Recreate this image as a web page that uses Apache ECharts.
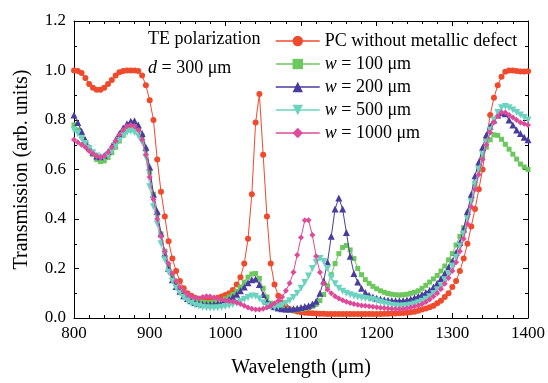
<!DOCTYPE html>
<html>
<head>
<meta charset="utf-8">
<script src="https://cdn.jsdelivr.net/npm/echarts@6/dist/echarts.min.js"></script>
<style>
html,body{margin:0;padding:0;background:#fff;}
#chart{width:548px;height:383px;}
</style>
</head>
<body>
<div id="chart"></div>
<script>
// Wavelength samples (µm), 800..1400
const wavelengths = [
  800,805,810,815,820,825,830,835,840,845,850,855,860,865,870,875,880,885,890,895,
  900,905,910,915,920,925,930,935,940,945,950,955,960,965,970,975,980,985,990,995,
  1000,1005,1010,1015,1020,1025,1030,1035,1040,1045,1050,1055,1060,1065,1070,1075,1080,1085,1090,1095,
  1100,1105,1110,1115,1120,1125,1130,1135,1140,1145,1150,1155,1160,1165,1170,1175,1180,1185,1190,1195,
  1200,1205,1210,1215,1220,1225,1230,1235,1240,1245,1250,1255,1260,1265,1270,1275,1280,1285,1290,1295,
  1300,1305,1310,1315,1320,1325,1330,1335,1340,1345,1350,1355,1360,1365,1370,1375,1380,1385,1390,1395,
  1400
];

const seriesNames = ['PC without metallic defect', 'w = 100 μm', 'w = 200 μm', 'w = 500 μm', 'w = 1000 μm'];

const pcNoDefect = [
  1.0,0.998,0.99,0.97,0.945,0.93,0.922,0.922,0.93,0.945,0.962,0.98,0.993,0.998,1.0,1.0,1.0,0.998,0.98,0.94,
  0.88,0.8,0.64,0.51,0.41,0.31,0.24,0.19,0.15,0.12,0.1,0.09,0.082,0.077,0.075,0.075,0.076,0.078,0.082,0.087,
  0.093,0.1,0.113,0.135,0.165,0.22,0.32,0.5,0.79,0.905,0.66,0.41,0.22,0.135,0.09,0.062,0.045,0.035,0.03,0.026,
  0.023,0.021,0.02,0.019,0.018,0.017,0.017,0.016,0.016,0.016,0.016,0.016,0.016,0.016,0.016,0.016,0.016,0.016,0.016,0.016,
  0.016,0.016,0.017,0.017,0.018,0.018,0.019,0.02,0.021,0.023,0.025,0.029,0.034,0.038,0.043,0.05,0.06,0.07,0.085,0.1,
  0.125,0.15,0.19,0.24,0.3,0.37,0.44,0.52,0.6,0.72,0.82,0.89,0.94,0.975,0.995,1.0,1.0,0.998,0.996,0.996,
  0.997
];

const w100 = [
  0.78,0.76,0.735,0.705,0.68,0.66,0.64,0.632,0.635,0.648,0.668,0.69,0.715,0.738,0.758,0.772,0.775,0.765,0.735,0.68,
  0.59,0.5,0.42,0.34,0.27,0.21,0.17,0.14,0.118,0.1,0.088,0.078,0.072,0.067,0.064,0.062,0.062,0.063,0.066,0.07,
  0.077,0.085,0.095,0.108,0.125,0.145,0.165,0.178,0.18,0.16,0.12,0.085,0.06,0.048,0.04,0.036,0.033,0.032,0.032,0.033,
  0.035,0.038,0.042,0.047,0.055,0.07,0.095,0.13,0.175,0.22,0.26,0.285,0.293,0.275,0.24,0.2,0.175,0.155,0.14,0.128,
  0.118,0.11,0.104,0.099,0.096,0.094,0.093,0.094,0.096,0.1,0.104,0.11,0.12,0.132,0.145,0.158,0.172,0.19,0.21,0.235,
  0.26,0.295,0.33,0.365,0.42,0.48,0.54,0.6,0.65,0.69,0.72,0.74,0.738,0.722,0.702,0.682,0.662,0.642,0.622,0.61,
  0.6
];

const w200 = [
  0.82,0.79,0.755,0.72,0.69,0.67,0.655,0.652,0.657,0.672,0.695,0.72,0.745,0.768,0.785,0.795,0.797,0.78,0.745,0.69,
  0.61,0.5,0.43,0.34,0.26,0.2,0.155,0.127,0.108,0.09,0.079,0.07,0.063,0.059,0.056,0.055,0.055,0.056,0.058,0.062,
  0.068,0.075,0.085,0.096,0.11,0.125,0.142,0.155,0.158,0.135,0.095,0.068,0.052,0.045,0.04,0.037,0.036,0.036,0.037,0.039,
  0.042,0.046,0.05,0.057,0.068,0.1,0.15,0.225,0.33,0.44,0.485,0.44,0.345,0.25,0.18,0.145,0.12,0.103,0.092,0.085,
  0.08,0.077,0.074,0.072,0.071,0.07,0.07,0.071,0.073,0.077,0.082,0.088,0.095,0.103,0.112,0.125,0.14,0.16,0.18,0.205,
  0.23,0.265,0.305,0.36,0.43,0.5,0.575,0.63,0.69,0.74,0.775,0.8,0.82,0.83,0.825,0.8,0.78,0.76,0.745,0.73,
  0.72
];

const w500 = [
  0.76,0.745,0.725,0.705,0.685,0.668,0.655,0.647,0.648,0.658,0.675,0.695,0.717,0.737,0.75,0.755,0.75,0.735,0.71,0.65,
  0.53,0.45,0.38,0.3,0.235,0.185,0.148,0.12,0.1,0.083,0.07,0.06,0.052,0.047,0.043,0.041,0.04,0.04,0.041,0.043,
  0.046,0.05,0.055,0.06,0.067,0.075,0.083,0.089,0.088,0.078,0.062,0.05,0.044,0.043,0.046,0.052,0.06,0.07,0.083,0.1,
  0.12,0.143,0.17,0.2,0.225,0.24,0.228,0.2,0.165,0.138,0.12,0.108,0.1,0.094,0.089,0.085,0.082,0.079,0.077,0.075,
  0.07,0.065,0.06,0.056,0.052,0.049,0.047,0.048,0.05,0.053,0.057,0.062,0.068,0.076,0.086,0.098,0.113,0.13,0.155,0.18,
  0.21,0.245,0.29,0.34,0.4,0.47,0.54,0.6,0.66,0.71,0.76,0.8,0.83,0.85,0.855,0.85,0.84,0.83,0.82,0.81,
  0.8
];

const w1000 = [
  0.72,0.71,0.7,0.69,0.675,0.665,0.655,0.65,0.655,0.67,0.69,0.715,0.74,0.76,0.775,0.78,0.775,0.76,0.72,0.66,
  0.57,0.48,0.4,0.33,0.27,0.22,0.18,0.15,0.125,0.108,0.095,0.087,0.082,0.08,0.085,0.088,0.087,0.083,0.078,0.074,
  0.071,0.069,0.067,0.063,0.057,0.049,0.042,0.037,0.034,0.034,0.037,0.042,0.05,0.06,0.07,0.085,0.11,0.14,0.185,0.255,
  0.325,0.395,0.395,0.335,0.25,0.185,0.14,0.115,0.1,0.088,0.079,0.072,0.066,0.061,0.057,0.054,0.051,0.049,0.047,0.045,
  0.043,0.041,0.04,0.038,0.037,0.036,0.036,0.037,0.039,0.042,0.046,0.051,0.057,0.065,0.075,0.087,0.1,0.117,0.138,0.162,
  0.19,0.225,0.27,0.32,0.38,0.45,0.52,0.58,0.64,0.7,0.75,0.79,0.815,0.83,0.83,0.82,0.81,0.8,0.79,0.785,
  0.78
];

const xTicks = [800, 900, 1000, 1100, 1200, 1300, 1400];
const yTicks = [0.0, 0.2, 0.4, 0.6, 0.8, 1.0, 1.2];

const seriesValues = [pcNoDefect, w100, w200, w500, w1000];
const colors = ['#ef4a2c', '#6cc85c', '#483d9e', '#6bd3bf', '#dd4b9a'];
const symbols = ['circle', 'rect', 'triangle', 'triangle', 'diamond'];
const symbolSizes = [6, 5, 7, 7, 6];
const symbolRotates = [0, 0, 0, 180, 0];

const FONT = '"Liberation Serif", "Times New Roman", serif';

const chart = echarts.init(document.getElementById('chart'), null, {renderer: 'canvas'});

const axisCommon = {
  type: 'value',
  axisLine: {show: true, onZero: false, lineStyle: {color: '#000', width: 1}},
  axisTick: {show: true, inside: true, length: 5, lineStyle: {color: '#000'}},
  minorTick: {show: true, length: 3, lineStyle: {color: '#000'}},
  splitLine: {show: false},
  minorSplitLine: {show: false}
};

const series = seriesValues.map((vals, i) => ({
  name: seriesNames[i],
  type: 'line',
  data: wavelengths.map((w, j) => [w, vals[j]]),
  symbol: symbols[i],
  symbolSize: symbolSizes[i],
  symbolRotate: symbolRotates[i],
  showSymbol: true,
  showAllSymbol: true,
  color: colors[i],
  lineStyle: {width: 1, color: colors[i]},
  itemStyle: {color: colors[i]},
  emphasis: {disabled: true},
  z: 2 + i
}));

chart.setOption({
  animation: false,
  backgroundColor: '#fff',
  grid: {left: 74, right: 19, top: 21, bottom: 59, containLabel: false},
  xAxis: [
    Object.assign({}, axisCommon, {
      min: xTicks[0], max: xTicks[xTicks.length - 1], interval: 100,
      minorTick: {show: true, splitNumber: 5, length: 3, lineStyle: {color: '#000'}},
      position: 'bottom',
      name: 'Wavelength (μm)', nameLocation: 'middle', nameGap: 40,
      nameTextStyle: {fontFamily: FONT, fontSize: 20, color: '#000'},
      axisLabel: {fontFamily: FONT, fontSize: 17, color: '#000', margin: 7,
        formatter: v => String(v)}
    }),
    Object.assign({}, axisCommon, {
      min: xTicks[0], max: xTicks[xTicks.length - 1], interval: 100,
      minorTick: {show: true, splitNumber: 5, length: 3, lineStyle: {color: '#000'}},
      position: 'top', axisLabel: {show: false}
    })
  ],
  yAxis: [
    Object.assign({}, axisCommon, {
      min: yTicks[0], max: yTicks[yTicks.length - 1], interval: 0.2,
      minorTick: {show: true, splitNumber: 2, length: 3, lineStyle: {color: '#000'}},
      position: 'left',
      name: 'Transmission (arb. units)', nameLocation: 'middle', nameGap: 42,
      nameTextStyle: {fontFamily: FONT, fontSize: 20, color: '#000'},
      axisLabel: {fontFamily: FONT, fontSize: 17, color: '#000', margin: 8,
        formatter: v => v.toFixed(1)}
    }),
    Object.assign({}, axisCommon, {
      min: yTicks[0], max: yTicks[yTicks.length - 1], interval: 0.2,
      minorTick: {show: true, splitNumber: 2, length: 3, lineStyle: {color: '#000'}},
      position: 'right', axisLabel: {show: false}
    })
  ],
  legend: {
    orient: 'vertical',
    left: 270, top: 27,
    itemWidth: 44, itemHeight: 13, itemGap: 5,
    data: seriesNames,
    lineStyle: {width: 1.5},
    textStyle: {
      fontFamily: FONT, fontSize: 18, color: '#000',
      rich: {
        i: {fontFamily: FONT, fontSize: 18, fontStyle: 'italic', color: '#000'},
        n: {fontFamily: FONT, fontSize: 18, color: '#000'}
      }
    },
    formatter: name => name.startsWith('w ') ? '{i|w}{n|' + name.slice(1) + '}' : name
  },
  graphic: [
    {type: 'text', left: 148, top: 30,
      style: {text: 'TE polarization', font: '18px ' + FONT, fill: '#000'}},
    {type: 'text', left: 148, top: 59,
      style: {text: '{i|d}{n| = 300 μm}', fill: '#000',
        rich: {
          i: {fontFamily: FONT, fontSize: 18, fontStyle: 'italic', fill: '#000'},
          n: {fontFamily: FONT, fontSize: 18, fill: '#000'}
        }}}
  ],
  series: series
});
</script>
</body>
</html>
